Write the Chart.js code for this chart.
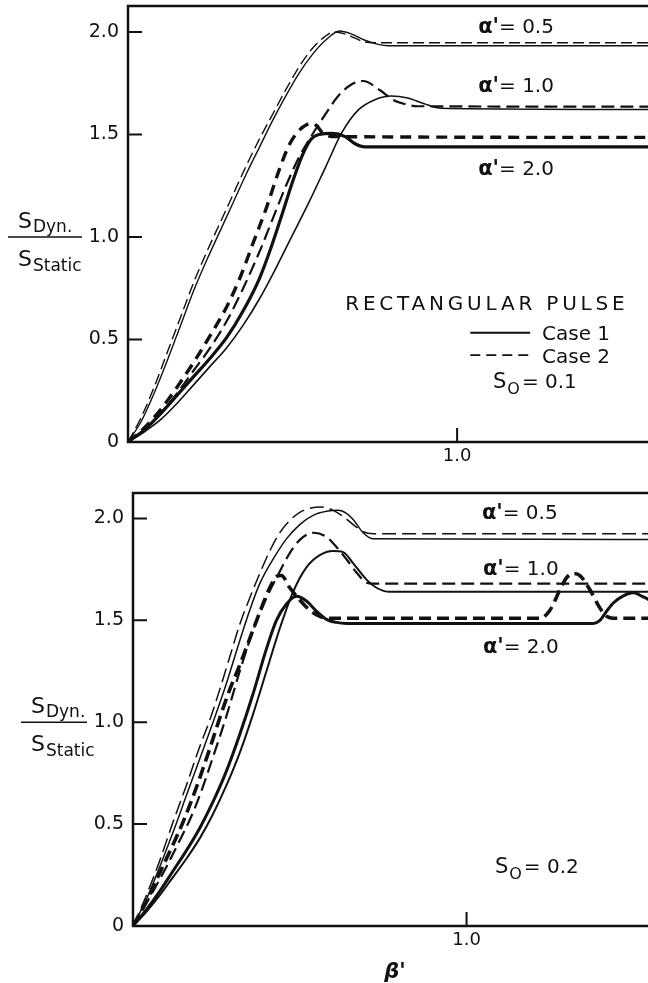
<!DOCTYPE html>
<html>
<head>
<meta charset="utf-8">
<script src="https://cdn.jsdelivr.net/npm/chart.js@4.4.1/dist/chart.umd.min.js"></script>
<style>
  body { margin: 0; background: #fff; }
  canvas { position: absolute; left: 0; }
  #topChart { top: 0; }
  #botChart { top: 480px; }
</style>
</head>
<body>
<canvas id="topChart" width="648" height="480"></canvas>
<canvas id="botChart" width="648" height="503"></canvas>
<script>
// beta' , S_dyn / S_static
// upper panel, S0 = 0.1
const top_a05_case1 = [[0,0],[0.04,0.10],[0.08,0.24],[0.12,0.40],[0.16,0.57],[0.20,0.74],[0.24,0.89],[0.28,1.03],[0.32,1.17],[0.36,1.31],[0.40,1.44],[0.44,1.57],[0.48,1.69],[0.52,1.80],[0.56,1.89],[0.60,1.96],[0.643,2.005],[0.68,1.99],[0.72,1.96],[0.76,1.94],[0.79,1.933],[1.6,1.933]];
const top_a05_case2 = [[0,0],[0.04,0.12],[0.08,0.27],[0.12,0.44],[0.16,0.61],[0.20,0.78],[0.24,0.93],[0.28,1.07],[0.32,1.21],[0.36,1.35],[0.40,1.48],[0.44,1.60],[0.48,1.72],[0.52,1.83],[0.56,1.92],[0.60,1.98],[0.625,2.0],[0.66,1.99],[0.69,1.97],[0.715,1.953],[0.75,1.948],[1.6,1.948]];
const top_a10_case1 = [[0,0],[0.05,0.05],[0.10,0.11],[0.15,0.19],[0.20,0.28],[0.25,0.37],[0.30,0.46],[0.35,0.57],[0.40,0.70],[0.45,0.85],[0.50,1.01],[0.55,1.17],[0.60,1.34],[0.65,1.51],[0.70,1.62],[0.75,1.67],[0.80,1.688],[0.85,1.678],[0.90,1.65],[0.95,1.628],[1.6,1.622]];
const top_a10_case2 = [[0,0],[0.05,0.06],[0.10,0.14],[0.15,0.24],[0.20,0.35],[0.25,0.46],[0.30,0.59],[0.35,0.75],[0.40,0.93],[0.44,1.09],[0.48,1.25],[0.52,1.39],[0.56,1.50],[0.60,1.60],[0.64,1.69],[0.68,1.745],[0.714,1.761],[0.765,1.717],[0.806,1.668],[0.85,1.645],[0.88,1.638],[1.6,1.636]];
const top_a20_case1 = [[0,0],[0.05,0.06],[0.10,0.14],[0.15,0.23],[0.20,0.32],[0.25,0.41],[0.30,0.51],[0.35,0.64],[0.40,0.80],[0.435,0.95],[0.47,1.12],[0.50,1.27],[0.53,1.40],[0.555,1.475],[0.58,1.50],[0.62,1.506],[0.66,1.49],[0.69,1.455],[0.72,1.44],[1.6,1.44]];
const top_a20_case2 = [[0,0],[0.05,0.07],[0.10,0.16],[0.15,0.27],[0.20,0.39],[0.25,0.52],[0.30,0.66],[0.34,0.80],[0.38,0.97],[0.42,1.14],[0.46,1.33],[0.49,1.45],[0.52,1.52],[0.545,1.55],[0.56,1.556],[0.575,1.54],[0.59,1.51],[0.62,1.49],[1.6,1.486]];

// lower panel, S0 = 0.2
const bot_a05_case1 = [[0,0],[0.04,0.13],[0.08,0.29],[0.12,0.46],[0.16,0.64],[0.20,0.82],[0.24,1.00],[0.28,1.19],[0.32,1.40],[0.35,1.55],[0.38,1.68],[0.42,1.80],[0.46,1.90],[0.50,1.97],[0.54,2.015],[0.58,2.035],[0.616,2.04],[0.64,2.025],[0.66,1.995],[0.69,1.93],[0.72,1.90],[1.6,1.897]];
const bot_a05_case2 = [[0,0],[0.04,0.15],[0.08,0.32],[0.12,0.51],[0.16,0.69],[0.20,0.88],[0.23,1.01],[0.26,1.16],[0.29,1.32],[0.32,1.48],[0.35,1.61],[0.38,1.73],[0.41,1.84],[0.44,1.93],[0.47,1.99],[0.50,2.03],[0.53,2.05],[0.566,2.056],[0.60,2.04],[0.63,2.01],[0.66,1.97],[0.69,1.935],[0.72,1.925],[1.6,1.925]];
const bot_a10_case1 = [[0,0],[0.04,0.07],[0.08,0.15],[0.12,0.24],[0.16,0.33],[0.20,0.43],[0.24,0.55],[0.28,0.69],[0.32,0.85],[0.36,1.04],[0.40,1.25],[0.44,1.46],[0.48,1.64],[0.52,1.76],[0.56,1.82],[0.60,1.84],[0.63,1.835],[0.66,1.78],[0.70,1.70],[0.73,1.66],[0.77,1.64],[1.6,1.64]];
const bot_a10_case2 = [[0,0],[0.05,0.14],[0.10,0.29],[0.14,0.42],[0.17,0.52],[0.20,0.64],[0.24,0.83],[0.28,1.03],[0.32,1.25],[0.36,1.45],[0.40,1.61],[0.44,1.74],[0.47,1.83],[0.50,1.895],[0.541,1.93],[0.58,1.91],[0.61,1.86],[0.64,1.80],[0.67,1.735],[0.70,1.685],[0.72,1.68],[1.6,1.68]];
const bot_a20_case1 = [[0,0],[0.04,0.08],[0.08,0.17],[0.12,0.27],[0.16,0.37],[0.20,0.48],[0.24,0.61],[0.28,0.76],[0.32,0.94],[0.36,1.14],[0.40,1.36],[0.43,1.50],[0.46,1.58],[0.49,1.618],[0.52,1.595],[0.55,1.545],[0.58,1.505],[0.61,1.49],[0.64,1.485],[1.38,1.485],[1.40,1.50],[1.42,1.545],[1.44,1.585],[1.47,1.62],[1.50,1.635],[1.53,1.615],[1.56,1.59]];
const bot_a20_case2 = [[0,0],[0.04,0.12],[0.08,0.26],[0.12,0.40],[0.15,0.51],[0.19,0.68],[0.23,0.87],[0.26,1.02],[0.29,1.16],[0.32,1.28],[0.35,1.41],[0.38,1.54],[0.41,1.66],[0.43,1.715],[0.445,1.72],[0.47,1.66],[0.50,1.60],[0.53,1.55],[0.56,1.52],[0.59,1.51],[1.22,1.51],[1.25,1.55],[1.28,1.65],[1.30,1.71],[1.32,1.73],[1.34,1.72],[1.37,1.65],[1.40,1.56],[1.42,1.52],[1.44,1.51],[1.6,1.51]];

const yTickValues = [0, 0.5, 1.0, 1.5, 2.0];
const xTickValues = [1.0];
const alphaLabels = ["0.5", "1.0", "2.0"];

const FONT = "'DejaVu Sans', sans-serif";
const INK = '#111';

function lineSet(pts, width, dash) {
  return {
    data: pts.map(p => ({ x: p[0], y: p[1] })),
    borderColor: INK,
    borderWidth: width,
    borderDash: dash || [],
    borderCapStyle: 'butt',
    pointRadius: 0,
    fill: false,
    cubicInterpolationMode: 'monotone'
  };
}

function alphaText(ctx, x, y, val) {
  ctx.font = 'bold 21px ' + FONT;
  ctx.fillText("α'", x, y);
  const w = ctx.measureText("α'").width;
  ctx.font = '20px ' + FONT;
  ctx.fillText("= " + val, x + w, y);
}

function subText(ctx, x, y, main, sub, mainSize, subSize, drop) {
  ctx.font = mainSize + 'px ' + FONT;
  ctx.fillText(main, x, y);
  const w = ctx.measureText(main).width;
  ctx.font = subSize + 'px ' + FONT;
  ctx.fillText(sub, x + w + 1, y + drop);
  return x + w + 1 + ctx.measureText(sub).width;
}

function decorPlugin(cfg) {
  return {
    id: 'decor',
    afterDraw(chart) {
      const ctx = chart.ctx;
      const a = chart.chartArea;
      const xs = chart.scales.x, ys = chart.scales.y;
      const px = v => xs.getPixelForValue(v), py = v => ys.getPixelForValue(v);
      ctx.save();
      ctx.strokeStyle = INK;
      ctx.fillStyle = INK;
      // frame: top, left, bottom
      ctx.lineWidth = 2.5;
      ctx.beginPath();
      ctx.moveTo(a.right, a.top); ctx.lineTo(a.left, a.top);
      ctx.lineTo(a.left, a.bottom); ctx.lineTo(a.right, a.bottom);
      ctx.stroke();
      // inward ticks
      ctx.lineWidth = 2;
      ctx.beginPath();
      yTickValues.forEach(v => { if (v > 0) { ctx.moveTo(a.left, py(v)); ctx.lineTo(a.left + 14, py(v)); } });
      xTickValues.forEach(v => { ctx.moveTo(px(v), a.bottom); ctx.lineTo(px(v), a.bottom - 14); });
      ctx.stroke();

      // y-axis fraction label
      const yl = py(1.0);
      ctx.lineWidth = 1.5;
      ctx.beginPath();
      ctx.moveTo(a.left - cfg.fracL, yl); ctx.lineTo(a.left - 46, yl);
      ctx.stroke();
      ctx.textBaseline = 'alphabetic';
      ctx.textAlign = 'left';
      const fx = a.left - cfg.fracL + 10;
      subText(ctx, fx, yl - 9, 'S', 'Dyn.', 22, 17, 4);
      subText(ctx, fx, yl + 29, 'S', 'Static', 22, 17, 5);

      // curve labels
      cfg.alphaPos.forEach((p, i) => alphaText(ctx, px(p[0]), py(p[1]), alphaLabels[i]));

      // S0 label
      const so = cfg.soPos;
      const e = subText(ctx, px(so[0]), py(so[1]), 'S', 'O', 21, 16, 6);
      ctx.font = '20px ' + FONT;
      ctx.fillText('= ' + cfg.soVal, e + 2, py(so[1]));

      if (cfg.legend) {
        ctx.font = '20px ' + FONT;
        ctx.letterSpacing = '3.8px';
        ctx.fillText('RECTANGULAR PULSE', px(0.66), py(0.644));
        ctx.letterSpacing = '0px';
        ctx.lineWidth = 1.8;
        ctx.beginPath();
        ctx.moveTo(px(1.04), py(0.533)); ctx.lineTo(px(1.222), py(0.533));
        ctx.stroke();
        ctx.setLineDash([10, 6]);
        ctx.beginPath();
        ctx.moveTo(px(1.04), py(0.424)); ctx.lineTo(px(1.222), py(0.424));
        ctx.stroke();
        ctx.setLineDash([]);
        ctx.fillText('Case 1', px(1.258), py(0.498));
        ctx.fillText('Case 2', px(1.258), py(0.385));
      }
      if (cfg.xTitle) {
        ctx.font = 'bold italic 21px ' + FONT;
        ctx.fillText("β'", px(0.753), a.bottom + 52);
      }
      ctx.restore();
    }
  };
}

function makeChart(id, series, cfg) {
  new Chart(document.getElementById(id), {
    type: 'line',
    data: { datasets: series },
    options: {
      responsive: false,
      animation: false,
      devicePixelRatio: 1,
      layout: { padding: { top: cfg.padTop, right: 0, left: 0, bottom: 0 } },
      plugins: { legend: { display: false }, tooltip: { enabled: false } },
      scales: {
        x: {
          type: 'linear', min: 0, max: cfg.xMax,
          afterBuildTicks: s => { s.ticks = xTickValues.map(v => ({ value: v })); },
          afterFit: s => { s.height = cfg.xHeight; s.paddingLeft = 0; s.paddingRight = 0; },
          grid: { display: false, drawTicks: false },
          border: { display: false },
          ticks: { color: INK, font: { family: FONT, size: 18 }, padding: 4, maxRotation: 0,
                   callback: v => v.toFixed(1) }
        },
        y: {
          type: 'linear', min: 0, max: cfg.yMax,
          afterBuildTicks: s => { s.ticks = yTickValues.map(v => ({ value: v })); },
          afterFit: s => { s.width = cfg.left; s.paddingTop = 0; s.paddingBottom = 0; },
          grid: { display: false, drawTicks: false },
          border: { display: false },
          ticks: { color: INK, font: { family: FONT, size: 19 }, padding: 9,
                   callback: v => (v === 0 ? '0' : v.toFixed(1)) }
        }
      }
    },
    plugins: [decorPlugin(cfg)]
  });
}

makeChart('topChart', [
  lineSet(top_a05_case1, 1.4),
  lineSet(top_a05_case2, 1.4, [11, 5]),
  lineSet(top_a10_case1, 1.6),
  lineSet(top_a10_case2, 2.2, [13, 6]),
  lineSet(top_a20_case1, 3.2),
  lineSet(top_a20_case2, 3.4, [11, 7])
], {
  padTop: 6, left: 128, xHeight: 38, xMax: 1.58, yMax: 2.127, fracL: 120,
  alphaPos: [[1.064, 1.995], [1.064, 1.707], [1.064, 1.302]],
  soPos: [1.109, 0.263], soVal: '0.1', legend: true, xTitle: false
});

makeChart('botChart', [
  lineSet(bot_a05_case1, 1.5),
  lineSet(bot_a05_case2, 1.5, [14, 6]),
  lineSet(bot_a10_case1, 2.0),
  lineSet(bot_a10_case2, 2.2, [13, 6]),
  lineSet(bot_a20_case1, 3.0),
  lineSet(bot_a20_case2, 3.6, [12, 6])
], {
  padTop: 13, left: 133, xHeight: 57, xMax: 1.544, yMax: 2.125, fracL: 112,
  alphaPos: [[1.046, 1.995], [1.049, 1.725], [1.049, 1.342]],
  soPos: [1.085, 0.26], soVal: '0.2', legend: false, xTitle: true
});
</script>
</body>
</html>
